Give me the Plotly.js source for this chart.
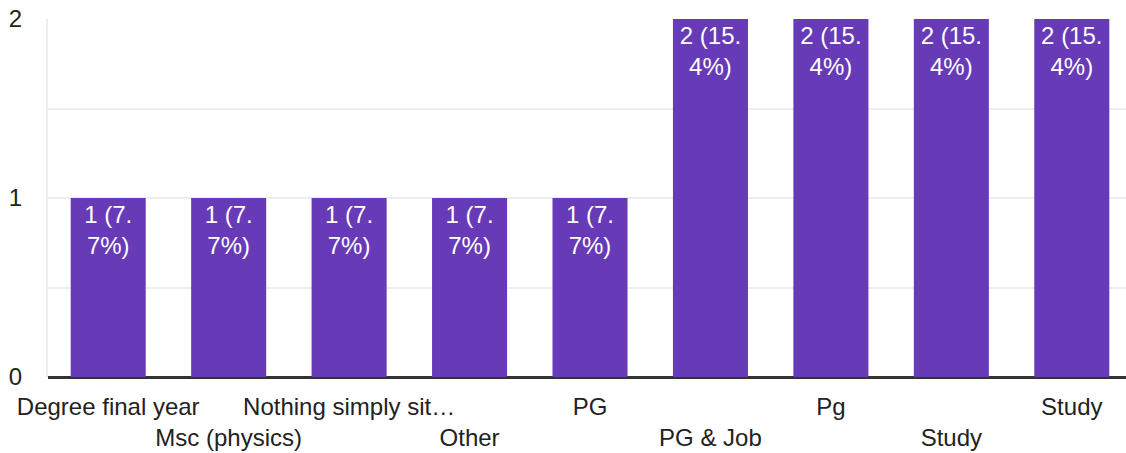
<!DOCTYPE html>
<html>
<head>
<meta charset="utf-8">
<script src="https://cdn.plot.ly/plotly-3.0.1.min.js"></script>
<style>html,body{margin:0;padding:0;background:#fff;}#chart{width:1126px;height:453px;}</style>
</head>
<body>
<div id="chart"></div>
<script>
const categories = ['Degree final year','Msc (physics)','Nothing simply sit…','Other','PG','PG & Job','Pg','Study','Study'];
const counts = [1,1,1,1,1,2,2,2,2];
const total = 13;
const yTickVals = [0,0.5,1,1.5,2];
const yTickText = ['0','','1','','2'];

const xs = categories.map((_, i) => i);
const labels = counts.map(c => {
  const s = c + ' (' + (c / total * 100).toFixed(1) + '%)';
  const k = s.indexOf('.') + 1;
  return s.slice(0, k) + '<br>' + s.slice(k);
});
const tickText = categories.map((c, i) => (i % 2 === 1 ? '<br>' + c : c));

const fontFam = 'Arial, "Liberation Sans", sans-serif';

Plotly.newPlot('chart', [{
  type: 'bar',
  x: xs,
  y: counts,
  text: labels,
  textposition: 'inside',
  insidetextanchor: 'end',
  textangle: 0,
  constraintext: 'none',
  textfont: {family: fontFam, size: 24, color: '#ffffff'},
  marker: {color: '#673ab7'},
  hoverinfo: 'none'
}], {
  width: 1126,
  height: 453,
  margin: {l: 48, r: 0, t: 19, b: 76},
  paper_bgcolor: '#ffffff',
  plot_bgcolor: '#ffffff',
  bargap: 0.377,
  showlegend: false,
  font: {family: fontFam, size: 24, color: '#222222'},
  xaxis: {
    range: [-0.5, 8.45],
    tickmode: 'array',
    tickvals: xs,
    ticktext: tickText,
    tickangle: 0,
    ticks: '',
    ticklabelstandoff: 13,
    showgrid: false,
    zeroline: false,
    showline: false,
    tickfont: {family: fontFam, size: 24, color: '#222222'},
    fixedrange: true
  },
  yaxis: {
    range: [0, 2],
    tickmode: 'array',
    tickvals: yTickVals,
    ticktext: yTickText,
    ticks: '',
    ticklabelstandoff: 19,
    showgrid: true,
    gridcolor: '#eeeeee',
    gridwidth: 2,
    zeroline: true,
    zerolinecolor: '#333333',
    zerolinewidth: 3,
    showline: true,
    linecolor: '#eeeeee',
    linewidth: 2,
    tickfont: {family: fontFam, size: 24, color: '#222222'},
    fixedrange: true
  }
}, {displayModeBar: false, staticPlot: true});
</script>
</body>
</html>
